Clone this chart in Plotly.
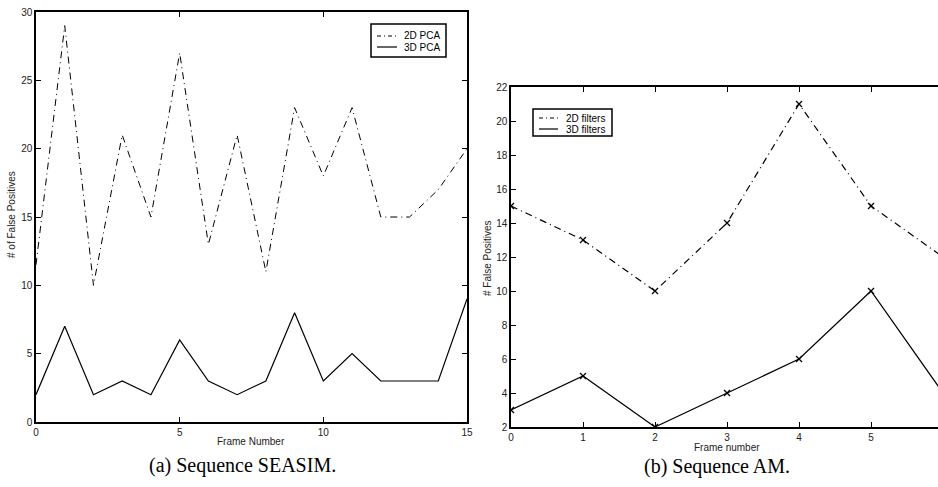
import plotly.graph_objects as go

# ---- data: (a) Sequence SEASIM ----
frames_a = list(range(16))
pca2d = [11.5, 29, 10, 21, 15, 27, 13, 21, 11, 23, 18, 23, 15, 15, 17, 20]
pca3d = [2, 7, 2, 3, 2, 6, 3, 2, 3, 8, 3, 5, 3, 3, 3, 9]

# ---- data: (b) Sequence AM ----
frames_b = [0, 1, 2, 3, 4, 5, 6]
filt2d = [15, 13, 10, 14, 21, 15, 12]
filt3d = [3, 5, 2, 4, 6, 10, 4]

ticks_a_x = [0, 5, 10, 15]
ticks_a_y = [0, 5, 10, 15, 20, 25, 30]
ticks_b_x = [0, 1, 2, 3, 4, 5]
ticks_b_y = [2, 4, 6, 8, 10, 12, 14, 16, 18, 20, 22]

W, H = 938, 487
DASH = "7px,4px,1px,4px"
SANS = "Liberation Sans, Arial, sans-serif"
tickfont = dict(family=SANS, size=10, color="#222")


def px(x):
    return x / W


def py(y):
    return 1 - y / H


fig = go.Figure()
fig.add_trace(go.Scatter(x=frames_a, y=pca2d, mode="lines", name="2D PCA",
                         line=dict(color="black", width=1, dash=DASH),
                         xaxis="x", yaxis="y", showlegend=False))
fig.add_trace(go.Scatter(x=frames_a, y=pca3d, mode="lines", name="3D PCA",
                         line=dict(color="black", width=1.2),
                         xaxis="x", yaxis="y", showlegend=False))
mk = dict(symbol="x-thin", size=6, line=dict(width=1.3, color="black"), color="black")
fig.add_trace(go.Scatter(x=frames_b, y=filt2d, mode="lines+markers", name="2D filters",
                         line=dict(color="black", width=1.2, dash=DASH), marker=mk,
                         xaxis="x2", yaxis="y2", showlegend=False))
fig.add_trace(go.Scatter(x=frames_b, y=filt3d, mode="lines+markers", name="3D filters",
                         line=dict(color="black", width=1.2), marker=mk,
                         xaxis="x2", yaxis="y2", showlegend=False))

axcommon = dict(showgrid=False, zeroline=False, showline=True, linecolor="black",
                linewidth=1.5, ticks="inside", ticklen=5, tickcolor="black",
                tickfont=tickfont, automargin=False, ticklabeloverflow="allow")

fig.update_layout(
    width=W, height=H,
    margin=dict(l=0, r=0, t=0, b=0),
    paper_bgcolor="white", plot_bgcolor="white",
    xaxis=dict(domain=[px(36), px(467)], range=[0, 15], tickvals=ticks_a_x,
               mirror="ticks", anchor="y", **axcommon),
    yaxis=dict(domain=[py(422), py(12)], range=[0, 30], tickvals=ticks_a_y,
               mirror="ticks", anchor="x", **axcommon),
    xaxis2=dict(domain=[px(511), 1.0], range=[0, 5.93], tickvals=ticks_b_x,
                mirror="ticks", anchor="y2", **axcommon),
    yaxis2=dict(domain=[py(427), py(87)], range=[2, 22], tickvals=ticks_b_y,
                mirror=False, anchor="x2", **axcommon),
)

# ---- hand-built legends (box, sample lines, labels) ----
def legend_box(x0, y0, x1, y1, rows, line_x0, line_x1, text_x, names, dashes):
    fig.add_shape(type="rect", xref="paper", yref="paper",
                  x0=px(x0), x1=px(x1), y0=py(y1), y1=py(y0),
                  line=dict(color="black", width=1.5), fillcolor="white", layer="above")
    for ry, nm, ds in zip(rows, names, dashes):
        fig.add_shape(type="line", xref="paper", yref="paper",
                      x0=px(line_x0), x1=px(line_x1), y0=py(ry), y1=py(ry),
                      line=dict(color="black", width=1.2, dash=ds), layer="above")
        fig.add_annotation(xref="paper", yref="paper", showarrow=False,
                           x=px(text_x), y=py(ry), xanchor="left", yanchor="middle",
                           text=nm, font=dict(family=SANS, size=10, color="black"))


legend_box(371, 24, 446, 57, [36, 47], 377, 397, 402,
           ["2D PCA", "3D PCA"], ["4px,3px,1px,3px", "solid"])
legend_box(533, 109, 612, 136, [118, 129], 539, 558, 564,
           ["2D filters", "3D filters"], ["4px,3px,1px,3px", "solid"])

lblfont = dict(family=SANS, size=10, color="#222")
capfont = dict(family="Liberation Serif, Times New Roman, serif", size=20, color="black")
ann = [
    dict(text="Frame Number", x=px(251), y=py(441), font=lblfont),
    dict(text="# of False Positives", x=px(12), y=py(215), font=lblfont, textangle=-90),
    dict(text="Frame number", x=px(727), y=py(447), font=lblfont),
    dict(text="# False Positives", x=px(487), y=py(258), font=lblfont, textangle=-90),
    dict(text="(a) Sequence SEASIM.", x=px(242), y=py(465), font=capfont),
    dict(text="(b) Sequence AM.", x=px(717), y=py(466), font=capfont),
]
for a in ann:
    fig.add_annotation(xref="paper", yref="paper", showarrow=False,
                       xanchor="center", yanchor="middle", **a)

fig.write_html("out.html",
               config={"displayModeBar": False},
               post_script="document.body.style.margin='0';document.body.style.overflow='hidden';")
